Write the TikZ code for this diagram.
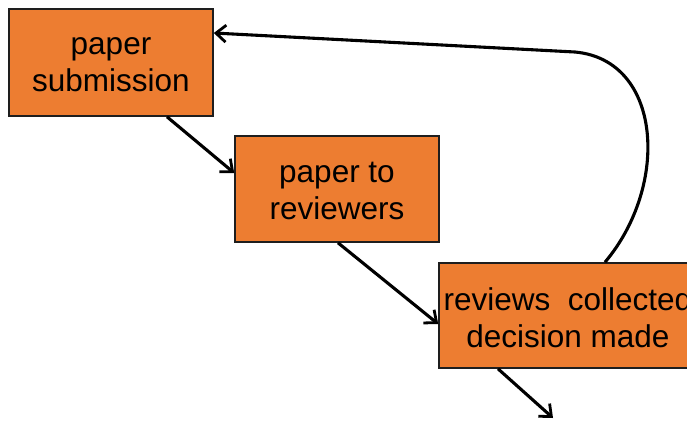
\documentclass[tikz,border=0pt]{standalone}
\usepackage{fontspec}
\setmainfont{Liberation Sans}
\usetikzlibrary{arrows.meta}
\definecolor{boxorange}{HTML}{ED7D31}
\definecolor{boxline}{HTML}{1E1E1E}
% set a line a little lower without changing its box
\newcommand{\lowln}[1]{\raisebox{-2pt}[\height][\depth]{#1}}
\tikzset{
  stagebox/.style={draw=boxline, line width=1.6pt, fill=boxorange, rectangle,
    inner sep=0pt, align=center, text=black,
    font=\fontsize{31.5}{37}\selectfont},
  flow/.style={draw=black, line width=3.1pt,
    -{Straight Barb[length=10pt,width=17pt,line width=2.8pt]}}
}
\begin{document}
\begin{tikzpicture}[x=1pt,y=-1pt]
  \useasboundingbox (0,0) rectangle (687,421);
  \clip (0,0) rectangle (687,421);

  % process stages
  \node[stagebox, minimum width=204pt, minimum height=107pt] (sub) at (111,62.5)
    {\lowln{paper}\\\lowln{submission}};
  \node[stagebox, minimum width=204pt, minimum height=106pt] (rev) at (337,189)
    {\lowln{paper to}\\\lowln{reviewers}};
  \node[stagebox, minimum width=258pt, minimum height=105pt] (dec) at (568,315.5)
    {\lowln{reviews\ \ collected}\\\lowln{decision made}};
  \coordinate (out) at (553,418);

  % forward flow
  \draw[flow] ([xshift=56pt]sub.south) -- ([yshift=16pt]rev.west);
  \draw[flow] ([xshift=1pt]rev.south) -- ([yshift=-8.5pt]dec.west);
  \draw[flow] ([xshift=-70pt]dec.south) -- (out);

  % feedback loop back to submission
  \draw[flow] ([xshift=37pt]dec.north) .. controls (670,185) and (662,60) .. (575,52)
    -- ([yshift=29.5pt]sub.east);
\end{tikzpicture}
\end{document}
